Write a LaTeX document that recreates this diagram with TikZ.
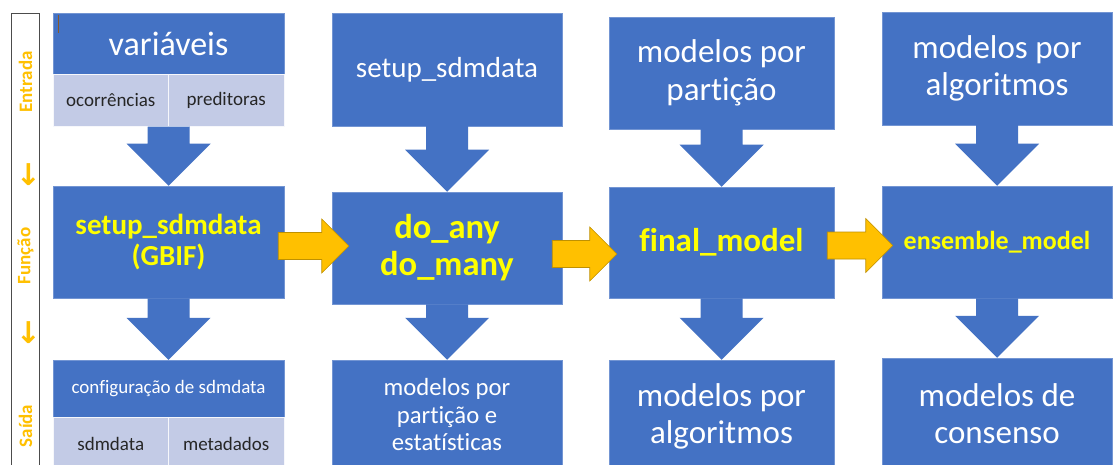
\documentclass[tikz,border=0pt]{standalone}
\usepackage{fontspec}
\setmainfont{Carlito}[Ligatures=NoCommon]
\newfontfamily\arrowfont{DejaVu Sans}
\usetikzlibrary{calc}
\definecolor{boxblue}{HTML}{4472C4}
\definecolor{celllight}{HTML}{C3CBE6}
\definecolor{gold}{HTML}{FFC000}
\definecolor{golddark}{HTML}{BF9000}
\definecolor{textyellow}{HTML}{FFFF00}
\newcommand{\fs}[2]{\fontsize{#1}{#2}\selectfont}
% blue block arrow: start point, tip point
\newcommand{\bluedown}[2]{%
	\fill[boxblue] ($(#1)+(-21,0)$) -- ($(#1)+(21,0)$) -- ($(#2)+(21,-42)$)
	-- ($(#2)+(42,-42)$) -- (#2) -- ($(#2)+(-42,-42)$) -- ($(#2)+(-21,-42)$) -- cycle;}
% gold block arrow: tail point, tip point
\newcommand{\goldright}[2]{%
	\filldraw[fill=gold, draw=golddark, line width=0.6] ($(#1)+(0,-13.5)$) -- ($(#2)+(-27,-13.5)$)
	-- ($(#2)+(-27,-27)$) -- (#2) -- ($(#2)+(-27,27)$) -- ($(#2)+(-27,13.5)$)
	-- ($(#1)+(0,13.5)$) -- cycle;}
\begin{document}
\begin{tikzpicture}[x=1pt, y=-1pt,
	box/.style={fill=boxblue, draw=boxblue!75!white, line width=0.5, inner sep=0pt, text=white, align=center},
	cell/.style={fill=celllight, draw=white!85!celllight, line width=0.5, inner sep=0pt, text=black!85, font=\fs{19}{23}},
	func/.style={box, text=textyellow},
	sidelabel/.style={rotate=90, text=gold, font=\bfseries\fs{19}{23}},
	sidearrow/.style={text=gold, inner sep=0pt, font=\arrowfont\bfseries\fs{30}{30}}]
	\useasboundingbox (0,0) rectangle (1115,465);
	\clip (0,0) rectangle (1115,465);
	\fill[white] (0,0) rectangle (1115,465);
	%sidebar
	\draw[black!70, line width=0.9] (11,470) -- (11,13) -- (39,13) -- (39,470);
	\node[sidelabel] (entrada) at (25.5,82) {Entrada};
	\node[sidelabel] (funcao) at (25.5,256) {Função};
	\node[sidelabel] (saida) at (25.5,426) {Saída};
	\foreach \y in {174.5,333}
	\node[sidearrow] at (28.5,\y) {↓};
	%column 1
	\node[box, minimum width=231, minimum height=61, font=\fs{34}{40}] (v1) at (168.5,43.5) {variáveis};
	\node[cell, minimum width=115.5, minimum height=52, anchor=north west] (c1) at (v1.south west) {ocorrências};
	\node[cell, minimum width=115.5, minimum height=52, anchor=north east] (c2) at (v1.south east) {preditoras};
	\node[func, minimum width=231, minimum height=112, font=\bfseries\fs{29}{31}] (f1) at (168.5,242) {setup\_sdmdata\\(GBIF)};
	\node[box, minimum width=231, minimum height=57, font=\fs{19}{23}] (o1) at (168.5,388.5) {configuração de sdmdata};
	\node[cell, minimum width=115.5, minimum height=53, anchor=north west] (c3) at (o1.south west) {sdmdata};
	\node[cell, minimum width=115.5, minimum height=53, anchor=north east] (c4) at (o1.south east) {metadados};
	\draw[brown!70!black, line width=0.8] (58,15) -- (58,33);
	%column 2
	\node[box, minimum width=230, minimum height=113, font=\fs{29}{34}] (i2) at (447,69.5) {setup\_sdmdata};
	\node[func, minimum width=230, minimum height=112, font=\bfseries\fs{34.5}{37}] (f2) at (447,248) {do\_any\\do\_many};
	\node[box, minimum width=230, minimum height=110, font=\fs{24.7}{27.5}] (o2) at (447,415) {modelos por\\partição e\\estatísticas};
	%column 3
	\node[box, minimum width=225, minimum height=112, font=\fs{33}{38}] (i3) at (721.5,73) {modelos por\\partição};
	\node[func, minimum width=225, minimum height=111, font=\bfseries\fs{33}{38}] (f3) at (721.5,242.5) {final\_model};
	\node[box, minimum width=225, minimum height=112, font=\fs{33}{37}] (o3) at (721.5,416) {modelos por\\algoritmos};
	%column 4
	\node[box, minimum width=230, minimum height=113, font=\fs{33}{37}] (i4) at (997,68.5) {modelos por\\algoritmos};
	\node[func, minimum width=230, minimum height=112, font=\bfseries\fs{26}{30}] (f4) at (997,242) {ensemble\_model};
	\node[box, minimum width=230, minimum height=112, font=\fs{33}{37}] (o4) at (997,414) {modelos de\\consenso};
	%down arrows
	\bluedown{c1.south east}{f1.north}
	\bluedown{f1.south}{o1.north}
	\bluedown{i2.south}{f2.north}
	\bluedown{f2.south}{o2.north}
	\bluedown{i3.south}{f3.north}
	\bluedown{f3.south}{o3.north}
	\bluedown{i4.south}{f4.north}
	\bluedown{f4.south}{o4.north}
	%right arrows
	\coordinate (t1) at ($(f1.east)+(-6,4)$);
	\coordinate (h1) at ($(f2.west |- t1)+(17,0)$);
	\coordinate (t2) at ($(f2.east)+(-10,6)$);
	\coordinate (h2) at ($(f3.west |- t2)+(8,0)$);
	\coordinate (t3) at ($(f3.east)+(-7,3)$);
	\coordinate (h3) at ($(f4.west |- t3)+(11,0)$);
	\goldright{t1}{h1}
	\goldright{t2}{h2}
	\goldright{t3}{h3}
\end{tikzpicture}
\end{document}
